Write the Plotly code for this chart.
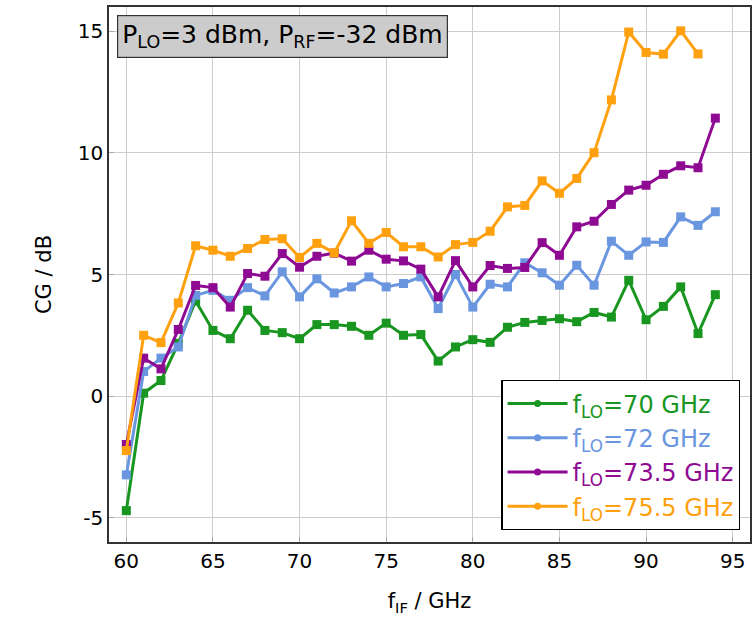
import plotly.graph_objects as go

# IF frequency points (GHz)
f_if = list(range(60, 95))        # 60..94
f_if_orange = list(range(60, 94))  # 60..93

# conversion gain (dB)
cg_70 = [-4.71, 0.12, 0.64, 2.17, 3.91, 2.70, 2.36, 3.53, 2.70, 2.61,
         2.36, 2.94, 2.94, 2.87, 2.50, 3.00, 2.50, 2.53, 1.44, 2.02,
         2.32, 2.21, 2.83, 3.03, 3.11, 3.18, 3.06, 3.44, 3.25, 4.76,
         3.14, 3.69, 4.49, 2.57, 4.17]
cg_72 = [-3.24, 1.01, 1.56, 2.02, 4.14, 4.35, 3.94, 4.46, 4.12, 5.11,
         4.08, 4.82, 4.24, 4.49, 4.90, 4.49, 4.63, 4.90, 3.60, 5.00,
         3.66, 4.60, 4.49, 5.48, 5.07, 4.56, 5.38, 4.56, 6.37, 5.79,
         6.34, 6.32, 7.37, 7.02, 7.58]
cg_735 = [-1.99, 1.56, 1.12, 2.74, 4.55, 4.46, 3.66, 5.04, 4.93, 5.86,
          5.30, 5.75, 5.88, 5.55, 6.00, 5.63, 5.56, 5.22, 4.08, 5.57,
          4.49, 5.37, 5.25, 5.29, 6.31, 5.79, 6.96, 7.19, 7.88, 8.47,
          8.67, 9.12, 9.47, 9.39, 11.43]
cg_755 = [-2.24, 2.50, 2.20, 3.83, 6.18, 6.00, 5.75, 6.07, 6.44, 6.47,
          5.70, 6.28, 5.89, 7.21, 6.28, 6.73, 6.14, 6.14, 5.72, 6.23,
          6.32, 6.78, 7.78, 7.84, 8.85, 8.34, 8.95, 10.01, 12.18, 14.97,
          14.13, 14.06, 15.02, 14.07]

x_ticks = [60, 65, 70, 75, 80, 85, 90, 95]
y_ticks = [-5, 0, 5, 10, 15]
y_ticklabels = ["-5", "0", "5", "10", "15"]

names = ["f<sub>LO</sub>=70 GHz", "f<sub>LO</sub>=72 GHz",
         "f<sub>LO</sub>=73.5 GHz", "f<sub>LO</sub>=75.5 GHz"]
colors = ["#18961f", "#6a96e0", "#8f0a93", "#ffa00f"]

FONT = "DejaVu Sans, sans-serif"

fig = go.Figure()

series = [(f_if, cg_70), (f_if, cg_72), (f_if, cg_735), (f_if_orange, cg_755)]
for (xs, ys), name, col in zip(series, names, colors):
    # the actual curve, square markers
    fig.add_trace(go.Scatter(x=xs, y=ys, mode="lines+markers", showlegend=False,
                             line=dict(color=col, width=3),
                             marker=dict(symbol="square", size=9, color=col)))
    # legend entry (line with small dot like pgfplots), text in same colour
    fig.add_trace(go.Scatter(x=[None], y=[None], mode="lines+markers",
                             name='<span style="color:%s">%s</span>' % (col, name),
                             line=dict(color=col, width=3),
                             marker=dict(symbol="circle", size=7, color=col)))

fig.update_layout(
    width=755, height=621,
    margin=dict(l=109, r=5, t=7, b=79),
    paper_bgcolor="white", plot_bgcolor="white",
    font=dict(family=FONT, size=20, color="black"),
    legend=dict(x=0.985, y=0.022, xanchor="right", yanchor="bottom",
                bgcolor="white", bordercolor="black", borderwidth=1.2,
                font=dict(family=FONT, size=24), itemwidth=60, tracegroupgap=0),
    showlegend=True,
)
fig.update_xaxes(range=[59, 96], tickvals=x_ticks,
                 tickfont=dict(family=FONT, size=20),
                 showgrid=True, gridcolor="#cccccc", gridwidth=1,
                 showline=True, linecolor="#333333", linewidth=1.5, mirror=True,
                 ticks="inside", ticklen=5, tickcolor="#aaaaaa", zeroline=False,
                 automargin=False,
                 title=dict(text="f<sub>IF</sub> / GHz", font=dict(family=FONT, size=21),
                            standoff=22))
fig.update_yaxes(range=[-6, 16], tickvals=y_ticks, ticktext=y_ticklabels,
                 tickfont=dict(family=FONT, size=20),
                 showgrid=True, gridcolor="#cccccc", gridwidth=1,
                 showline=True, linecolor="#333333", linewidth=1.5, mirror=True,
                 ticks="inside", ticklen=5, tickcolor="#aaaaaa", zeroline=False,
                 automargin=False,
                 title=dict(text="CG / dB", font=dict(family=FONT, size=21), standoff=20))

fig.add_annotation(xref="paper", yref="paper", x=0.012, y=0.985,
                   xanchor="left", yanchor="top",
                   text="P<sub>LO</sub>=3 dBm, P<sub>RF</sub>=-32 dBm",
                   showarrow=False, font=dict(family=FONT, size=25, color="black"),
                   bgcolor="#cccccc", bordercolor="#333333", borderwidth=1.2,
                   borderpad=4)

# drop the default page margin so the figure sits at the window corner
fig.write_html("out.html", config={"displayModeBar": False},
               post_script="document.body.style.margin='0';")
